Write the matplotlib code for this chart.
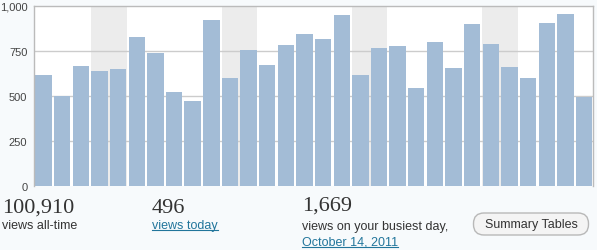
import numpy as np
import matplotlib
matplotlib.use("Agg")
import matplotlib.pyplot as plt
from matplotlib.lines import Line2D
from matplotlib.patches import FancyBboxPatch

views = [617, 498, 668, 639, 652, 828, 741, 522, 470, 922,
         600, 756, 670, 785, 844, 817, 948, 617, 767, 776,
         546, 802, 657, 898, 791, 663, 600, 907, 956, 496]
weekend_starts = [3, 10, 17, 24]
yticks = [0, 250, 500, 750, 1000]
ytick_labels = ["0", "250", "500", "750", "1,000"]

W, H = 597, 251
fig = plt.figure(figsize=(W / 100, H / 100), dpi=100)
bg = "#f7fafc"
fig.patch.set_facecolor(bg)

l, r, t, b = 34.3, 593.3, 7.0, 186.7
ax = fig.add_axes([l / W, 1 - b / H, (r - l) / W, (b - t) / H])
ax.set_facecolor("white")

x = np.arange(len(views))
for s in weekend_starts:
    ax.axvspan(s - 0.45, s + 1.45, color="#ececec", zorder=0, lw=0)
for yv in yticks[1:-1]:
    ax.axhline(yv, color="#cccccc", lw=1, zorder=1)
ax.bar(x, views, width=0.88, color="#a3bcd6", zorder=2, lw=0)

ax.set_xlim(-0.5, len(views) - 0.5)
ax.set_ylim(0, 1000)
ax.set_xticks([])
ax.set_yticks(yticks)
ax.set_yticklabels(ytick_labels, fontfamily="Liberation Sans", fontsize=8, color="#444444")
ax.tick_params(axis="y", length=0, pad=5)
for side in ["left", "top", "right"]:
    ax.spines[side].set_color("#bbbbbb")
    ax.spines[side].set_linewidth(1)
ax.spines["bottom"].set_visible(False)

def fx(px):
    return px / W

def fy(py):
    return 1 - py / H

serif = dict(fontfamily="Liberation Serif", fontsize=16, color="#333333")
sans = dict(fontfamily="Liberation Sans", fontsize=9, color="#333333")
link = dict(fontfamily="Liberation Sans", fontsize=9, color="#21759b")

fig.text(fx(2), fy(213), "100,910", va="baseline", **serif)
fig.text(fx(2), fy(226), "views all-time", va="center", **sans)
fig.text(fx(152), fy(213), "496", va="baseline", **serif)
t1 = fig.text(fx(152), fy(226), "views today", va="center", **link)
fig.text(fx(302), fy(211), "1,669", va="baseline", **serif)
fig.text(fx(302), fy(227), "views on your busiest day,", va="center", **sans)
t2 = fig.text(fx(302), fy(243), "October 14, 2011", va="center", **link)

# button (pixel coordinates, display origin bottom-left)
bx0, bx1, by0, by1 = 473.5, 588.5, 214.0, 236.0
btn = FancyBboxPatch((bx0, H - by1), bx1 - bx0, by1 - by0,
                     boxstyle="round,pad=0,rounding_size=10.5",
                     fc="#f4f4f4", ec="#b8b8b8", lw=1, transform=None)
fig.add_artist(btn)
fig.text(fx((bx0 + bx1) / 2), fy(225.5), "Summary Tables", ha="center", va="center",
         fontfamily="Liberation Sans", fontsize=9, color="#333333")

fig.canvas.draw()
renderer = fig.canvas.get_renderer()
for tt in (t1, t2):
    bb = tt.get_window_extent(renderer)
    yline = bb.y0 + 1.5
    fig.add_artist(Line2D([bb.x0 / W, bb.x1 / W], [yline / H, yline / H],
                          transform=fig.transFigure, color="#21759b", lw=0.8))

fig.savefig("out.png", dpi=100, facecolor=bg)
